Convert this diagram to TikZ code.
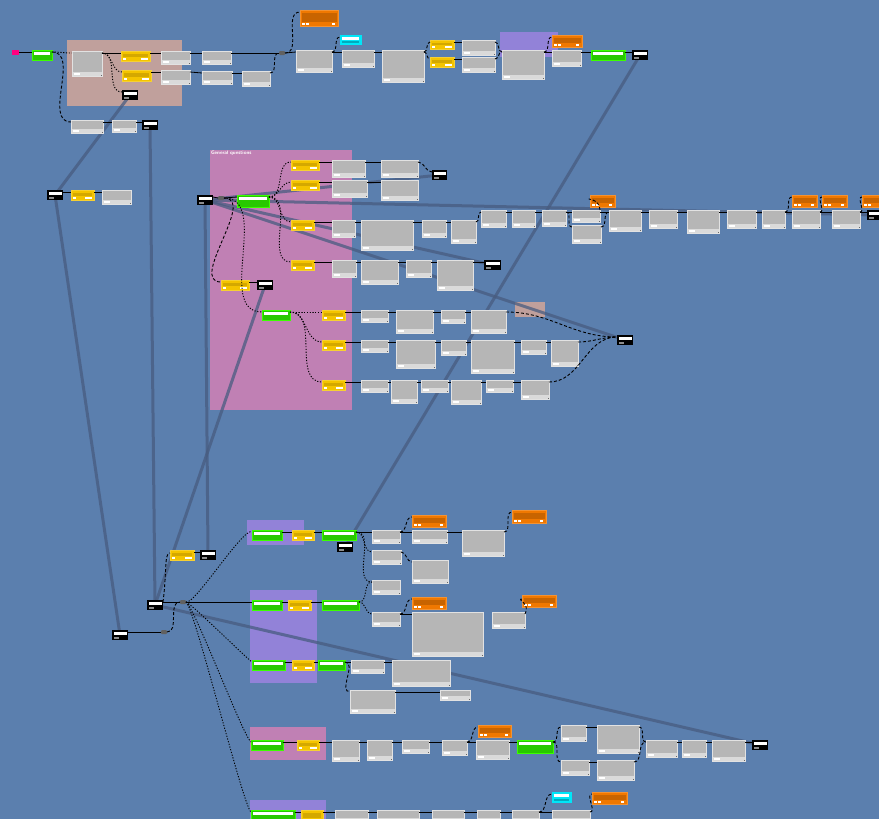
\documentclass[tikz,border=0pt]{standalone}
\usepackage{tikz}

\definecolor{canvas}{RGB}{91,127,174}
\definecolor{grpbrown}{RGB}{192,160,156}
\definecolor{grppink}{RGB}{192,128,180}
\definecolor{grplav}{RGB}{146,130,216}
\definecolor{cardgray}{RGB}{182,182,182}
\definecolor{cardrim}{RGB}{226,226,226}
\definecolor{cardfoot}{RGB}{218,218,218}
\definecolor{ygold}{RGB}{244,196,0}
\definecolor{ydark}{RGB}{212,168,0}
\definecolor{gbright}{RGB}{40,200,0}
\definecolor{grim}{RGB}{60,255,0}
\definecolor{oflame}{RGB}{240,120,0}
\definecolor{odark}{RGB}{200,100,0}
\definecolor{cyanbox}{RGB}{0,230,248}
\definecolor{cyandark}{RGB}{0,170,190}
\definecolor{linkblue}{RGB}{72,92,128}
\definecolor{startpink}{RGB}{255,0,128}

\pgfdeclarelayer{groups}
\pgfdeclarelayer{links}
\pgfsetlayers{groups,links,main}

\tikzset{
  wh/.style 2 args={minimum width=#1pt, minimum height=#2pt},
  box/.style={anchor=north west, inner sep=0pt, outer sep=0pt},
  card/.style={box, fill=cardgray, draw=cardrim, line width=.8pt,
    path picture={
      \fill[cardfoot] (path picture bounding box.south west) rectangle ([yshift=4pt]path picture bounding box.south east);
      \fill[white] ([shift={(2pt,1pt)}]path picture bounding box.south west) rectangle +(6pt,2pt);
      \fill[black!60] (path picture bounding box.south east) rectangle +(-1.5pt,1.5pt);
    }},
  gold/.style={box, fill=ygold, draw=ygold!80!white, line width=.8pt,
    path picture={
      \fill[ydark] ([shift={(2pt,-3pt)}]path picture bounding box.north west) rectangle ([shift={(-2pt,4pt)}]path picture bounding box.south east);
      \fill[white] ([shift={(2pt,1pt)}]path picture bounding box.south west) rectangle +(3pt,2.5pt);
      \fill[white] ([shift={(-9pt,1pt)}]path picture bounding box.south east) rectangle +(7pt,2.5pt);
    }},
  leaf/.style={box, fill=gbright, draw=grim, line width=1pt,
    path picture={
      \fill[white] ([shift={(2pt,-1.5pt)}]path picture bounding box.north west) rectangle ([shift={(-2pt,-4.5pt)}]path picture bounding box.north east);
    }},
  flag/.style={box, fill=oflame, draw=oflame!80!white, line width=.8pt,
    path picture={
      \fill[odark] ([shift={(1.5pt,-3pt)}]path picture bounding box.north west) rectangle ([shift={(-1.5pt,4pt)}]path picture bounding box.south east);
      \fill[white] ([shift={(2pt,1pt)}]path picture bounding box.south west) rectangle +(2.5pt,2.5pt);
      \fill[white] ([shift={(6pt,1pt)}]path picture bounding box.south west) rectangle +(2.5pt,2.5pt);
      \fill[white] ([shift={(-6pt,1pt)}]path picture bounding box.south east) rectangle +(2.5pt,2.5pt);
    }},
  teal/.style={box, fill=cyanbox, draw=cyanbox, line width=.8pt,
    path picture={
      \fill[white] ([shift={(2pt,-2pt)}]path picture bounding box.north west) rectangle ([shift={(-2pt,-5pt)}]path picture bounding box.north east);
      \fill[cyandark] ([shift={(2pt,1pt)}]path picture bounding box.south west) rectangle ([shift={(-2pt,3pt)}]path picture bounding box.south east);
    }},
  jump/.style={box, fill=black, wh={16}{10},
    path picture={
      \fill[white] ([shift={(1.5pt,-2pt)}]path picture bounding box.north west) rectangle ([shift={(-1pt,-5pt)}]path picture bounding box.north east);
      \fill[black!45] ([shift={(1.5pt,1.5pt)}]path picture bounding box.south west) rectangle +(5pt,2pt);
    }},
  knot/.style={box, fill=black!62, rounded corners=1pt, wh={6}{4}},
  note/.style={box, fill=grpbrown},
  flow/.style={black, line width=.8pt},
  branch/.style={black, line width=.9pt, dash pattern=on 3pt off 2pt},
  hint/.style={black, line width=.9pt, dash pattern=on 1.2pt off 1.6pt},
  thick link/.style={linkblue, line width=3pt, opacity=.75},
}

\begin{document}
\begin{tikzpicture}[x=1pt,y=-1pt]
\useasboundingbox (0,0) rectangle (879,819);

\begin{pgfonlayer}{groups}
  \fill[canvas] (0,0) rectangle (879,819);
  \fill[grpbrown] (67,40) rectangle (182,106);
  \fill[grplav] (500,32) rectangle (558,57);
  \fill[grppink] (210,150) rectangle (352,410);
  \fill[grplav] (247,520) rectangle (304,545);
  \fill[grplav] (250,590) rectangle (317,683);
  \fill[grppink] (250,727) rectangle (326,760);
  \fill[grplav] (250,800) rectangle (326,825);
  \node[note, wh={30}{15}] (memo) at (515,302) {};
  \node[box, text=white, font=\sffamily\bfseries\fontsize{5}{6}\selectfont] (gqtitle) at (211,151) {General questions};
\end{pgfonlayer}

% top row
\node[box, fill=startpink, wh={7}{5}] (start) at (12,50) {};
\node[leaf, wh={20}{10}] (g1) at (32,50) {};
\node[card, wh={30}{25}] (a1) at (72,51) {};
\node[gold, wh={29}{10}] (y1) at (121,51) {};
\node[gold, wh={29}{11}] (y2) at (122,70) {};
\node[card, wh={29}{13}] (a2) at (161,51) {};
\node[card, wh={29}{14}] (a3) at (161,70) {};
\node[card, wh={29}{13}] (a4) at (202,51) {};
\node[card, wh={30}{13}] (a5) at (202,71) {};
\node[card, wh={28}{15}] (a6) at (242,71) {};
\node[jump] (k1) at (122,90) {};
\node[card, wh={32}{13}] (a7) at (71,120) {};
\node[card, wh={24}{12}] (a8) at (112,120) {};
\node[jump] (k2) at (142,120) {};
\node[knot] (jn1) at (279,51) {};
\node[flag, wh={38}{16}] (o1) at (300,10) {};
\node[card, wh={36}{22}] (b1) at (296,50) {};
\node[teal, wh={21}{9}] (cy1) at (340,35) {};
\node[card, wh={32}{17}] (b2) at (342,50) {};
\node[card, wh={42}{32}] (b3) at (382,50) {};
\node[gold, wh={24}{9}] (y3) at (430,40) {};
\node[gold, wh={24}{10}] (y4) at (430,57) {};
\node[card, wh={33}{15}] (b4) at (462,40) {};
\node[card, wh={33}{15}] (b5) at (462,57) {};
\node[card, wh={42}{29}] (b6) at (502,50) {};
\node[flag, wh={30}{12}] (o2) at (552,35) {};
\node[card, wh={29}{16}] (b7) at (552,50) {};
\node[leaf, wh={34}{10}] (g2) at (591,50) {};
\node[jump] (k3) at (632,50) {};

% left column
\node[jump] (k12) at (47,190) {};
\node[gold, wh={23}{10}] (y18) at (71,190) {};
\node[card, wh={29}{14}] (l1) at (102,190) {};

% general questions
\node[jump] (k4) at (197,195) {};
\node[knot] (jn2) at (218,196) {};
\node[leaf, wh={32}{12}] (g3) at (237,195) {};
\node[gold, wh={28}{10}] (y5) at (291,160) {};
\node[gold, wh={28}{10}] (y6) at (291,180) {};
\node[gold, wh={23}{10}] (y7) at (291,220) {};
\node[gold, wh={23}{10}] (y8) at (291,260) {};
\node[gold, wh={28}{10}] (y9) at (221,280) {};
\node[jump] (k7) at (257,280) {};
\node[card, wh={33}{17}] (c1) at (332,160) {};
\node[card, wh={35}{17}] (c2) at (332,180) {};
\node[card, wh={37}{17}] (c3) at (381,160) {};
\node[card, wh={37}{20}] (c4) at (381,180) {};
\node[jump, wh={15}{10}] (k5) at (432,170) {};
\node[card, wh={23}{17}] (c5) at (332,220) {};
\node[card, wh={52}{30}] (c6) at (361,220) {};
\node[card, wh={24}{17}] (c7) at (422,220) {};
\node[card, wh={25}{23}] (c8) at (451,220) {};
\node[card, wh={25}{17}] (d1) at (481,210) {};
\node[card, wh={23}{17}] (d2) at (512,210) {};
\node[card, wh={24}{16}] (d3) at (542,210) {};
\node[card, wh={28}{12}] (d4) at (572,210) {};
\node[card, wh={29}{18}] (dx) at (572,225) {};
\node[flag, wh={25}{12}] (o3) at (590,195) {};
\node[card, wh={32}{21}] (d5) at (609,210) {};
\node[card, wh={28}{18}] (d6) at (649,210) {};
\node[card, wh={32}{23}] (d7) at (687,210) {};
\node[card, wh={29}{18}] (d8) at (727,210) {};
\node[card, wh={23}{18}] (d9) at (762,210) {};
\node[flag, wh={25}{12}] (o4) at (792,195) {};
\node[card, wh={28}{18}] (d10) at (792,210) {};
\node[flag, wh={25}{12}] (o5) at (822,195) {};
\node[card, wh={28}{18}] (d11) at (832,210) {};
\node[flag, wh={25}{12}] (o6) at (862,195) {};
\node[jump] (k8) at (867,210) {};
\node[card, wh={24}{17}] (c10) at (332,260) {};
\node[card, wh={37}{24}] (c11) at (361,260) {};
\node[card, wh={25}{17}] (c12) at (406,260) {};
\node[card, wh={36}{30}] (c13) at (437,260) {};
\node[jump, wh={17}{10}] (k6) at (484,260) {};
\node[leaf, wh={28}{10}] (g4) at (262,310) {};
\node[gold, wh={23}{10}] (y10) at (322,310) {};
\node[gold, wh={23}{10}] (y11) at (322,340) {};
\node[gold, wh={23}{10}] (y12) at (322,380) {};
\node[card, wh={27}{12}] (e1) at (361,310) {};
\node[card, wh={37}{23}] (e2) at (396,310) {};
\node[card, wh={24}{13}] (e3) at (441,310) {};
\node[card, wh={35}{23}] (e4) at (471,310) {};
\node[jump] (k9) at (617,335) {};
\node[card, wh={27}{12}] (f1) at (361,340) {};
\node[card, wh={39}{28}] (f2) at (396,340) {};
\node[card, wh={25}{15}] (f3) at (441,340) {};
\node[card, wh={43}{33}] (f4) at (471,340) {};
\node[card, wh={25}{14}] (f5) at (521,340) {};
\node[card, wh={27}{26}] (f6) at (551,340) {};
\node[card, wh={27}{12}] (h1) at (361,380) {};
\node[card, wh={26}{23}] (h2) at (391,380) {};
\node[card, wh={27}{12}] (h3) at (421,380) {};
\node[card, wh={30}{24}] (h4) at (451,380) {};
\node[card, wh={27}{12}] (h5) at (486,380) {};
\node[card, wh={28}{19}] (h6) at (521,380) {};

% lower half
\node[gold, wh={24}{10}] (y19) at (170,550) {};
\node[jump] (k14) at (200,550) {};
\node[jump] (k13) at (147,600) {};
\node[knot] (jn3) at (180,600) {};
\node[jump] (k15) at (112,630) {};
\node[knot] (jn4) at (161,630) {};
\node[leaf, wh={30}{10}] (g5) at (252,530) {};
\node[gold, wh={22}{10}] (y13) at (292,530) {};
\node[leaf, wh={34}{10}] (g6) at (322,530) {};
\node[jump] (k10) at (337,542) {};
\node[card, wh={28}{13}] (i1) at (372,530) {};
\node[flag, wh={34}{12}] (o7) at (412,515) {};
\node[card, wh={35}{13}] (i2) at (412,530) {};
\node[card, wh={42}{26}] (i3) at (462,530) {};
\node[flag, wh={34}{13}] (o8) at (512,510) {};
\node[card, wh={29}{14}] (i4) at (372,550) {};
\node[card, wh={36}{23}] (i5) at (412,560) {};
\node[card, wh={28}{14}] (i6) at (372,580) {};
\node[leaf, wh={30}{10}] (g7) at (252,600) {};
\node[gold, wh={23}{10}] (y14) at (288,600) {};
\node[leaf, wh={37}{10}] (g8) at (322,600) {};
\node[flag, wh={34}{12}] (o9) at (412,597) {};
\node[card, wh={28}{14}] (i7) at (372,612) {};
\node[card, wh={71}{44}] (i8) at (412,612) {};
\node[card, wh={33}{16}] (i9) at (492,612) {};
\node[flag, wh={34}{12}] (o10) at (522,595) {};
\node[leaf, wh={33}{10}] (g9) at (252,660) {};
\node[gold, wh={22}{10}] (y15) at (292,660) {};
\node[leaf, wh={27}{10}] (g10) at (318,660) {};
\node[card, wh={33}{13}] (i10) at (351,660) {};
\node[card, wh={58}{26}] (i11) at (392,660) {};
\node[card, wh={45}{23}] (i12) at (350,690) {};
\node[card, wh={30}{10}] (i13) at (440,690) {};
\node[leaf, wh={32}{10}] (g11) at (251,740) {};
\node[gold, wh={22}{10}] (y16) at (297,740) {};
\node[card, wh={27}{21}] (j1) at (332,740) {};
\node[card, wh={25}{20}] (j2) at (367,740) {};
\node[card, wh={27}{13}] (j3) at (402,740) {};
\node[card, wh={25}{15}] (j4) at (442,740) {};
\node[flag, wh={33}{12}] (o11) at (478,725) {};
\node[card, wh={33}{19}] (j5) at (476,740) {};
\node[leaf, wh={36}{13}] (g12) at (517,740) {};
\node[card, wh={25}{16}] (j6) at (561,725) {};
\node[card, wh={42}{28}] (j7) at (597,725) {};
\node[card, wh={28}{15}] (j8) at (561,760) {};
\node[card, wh={37}{20}] (j9) at (597,760) {};
\node[card, wh={31}{17}] (j10) at (646,740) {};
\node[card, wh={24}{17}] (j11) at (682,740) {};
\node[card, wh={33}{21}] (j12) at (712,740) {};
\node[jump] (k11) at (752,740) {};
\node[leaf, wh={44}{12}] (g13) at (251,810) {};
\node[gold, wh={22}{12}] (y17) at (301,810) {};
\node[card, wh={33}{12}] (m1) at (335,810) {};
\node[card, wh={42}{12}] (m2) at (377,810) {};
\node[card, wh={32}{12}] (m3) at (432,810) {};
\node[card, wh={23}{12}] (m4) at (477,810) {};
\node[card, wh={27}{12}] (m5) at (512,810) {};
\node[card, wh={38}{12}] (m6) at (552,810) {};
\node[teal, wh={19}{10}] (cy2) at (552,792) {};
\node[flag, wh={35}{12}] (o12) at (592,792) {};

% long jumps
\begin{pgfonlayer}{links}
  \foreach \a/\b in {k1/k12, k12/k15, k2/k13, k4/k14, k7/k13, k13/k11,
                     k10/k3, k4/k5, k4/k6, k4/k8, k4/k9}
    \draw[thick link] (\a.center) -- (\b.center);
\end{pgfonlayer}

% straight flow
\foreach \a/\b in {start/g1, a1/y1, y1/a2, a2/a4, a4/jn1, jn1/b1, y2/a3, a3/a5, a5/a6,
                   a7/a8, a8/k2, b1/b2, b2/b3, y3/b4, y4/b5, b6/b7, b7/g2, g2/k3,
                   k12/y18, y18/l1, k4/jn2, jn2/g3, y5/c1, c1/c3, y6/c2, c2/c4,
                   y7/c5, c5/c6, c6/c7, c7/c8, d1/d2, d2/d3, d3/d4, d4/d5, d5/d6,
                   d6/d7, d7/d8, d8/d9, d9/d10, d10/d11, d11/k8,
                   y8/c10, c10/c11, c11/c12, c12/c13, c13/k6, y9/k7,
                   y10/e1, e1/e2, e2/e3, e3/e4, y11/f1, f1/f2, f2/f3, f3/f4, f4/f5, f5/f6,
                   y12/h1, h1/h2, h2/h3, h3/h4, h4/h5, h5/h6,
                   y19/k14, k13/jn3, k15/jn4, jn3/g7, g5/y13, y13/g6, g6/i1, i1/i2, i2/i3,
                   g7/y14, y14/g8, i7/i8, g9/y15, y15/g10, g10/i10, i10/i11, i12/i13,
                   g11/y16, y16/j1, j1/j2, j2/j3, j3/j4, j4/j5, j5/g12, j6/j7, j8/j9,
                   j10/j11, j11/j12, j12/k11, g13/y17, y17/m1, m1/m2, m2/m3, m3/m4, m4/m5, m5/m6}
  \draw[flow] ([yshift=-2pt]\a.north east) -- ([yshift=-2pt]\b.north west);

% dashed branches
\foreach \a/\b in {g1/a7, a6/jn1, jn1/o1, b1/cy1, b3/y3, b3/y4, b4/b6, b5/b6, b6/o2,
                   jn2/y9, c3/k5, c8/d1, d3/dx, dx/d5, d9/o4, d10/o5, d11/o6,
                   e4/k9, f6/k9, h6/k9, jn4/jn3, i4/i5, i1/o7, i3/o8, i7/o9,
                   g10/i12, g12/j6, g12/j8, j7/j10, j9/j10, j4/o11, m5/cy2, m6/o12}
  \draw[branch] ([yshift=-2pt]\a.north east) to[out=0,in=180] ([yshift=-2pt]\b.north west);

% dotted hints
\foreach \a/\b in {g1/a1, a1/y2, a1/k1, jn2/g4, g3/y5, g3/y6, g3/y7, g3/y8,
                   g4/y10, g4/y11, g4/y12, g6/i4, g6/i6, g8/i6, g8/i7}
  \draw[hint] ([yshift=-2pt]\a.north east) to[out=0,in=180] ([yshift=-2pt]\b.north west);
\foreach \b in {g5, g9, g11, g13}
  \draw[hint] (jn3.east) .. controls +(8,4) and +(-8,-6) .. ([yshift=-2pt]\b.north west);

\draw[branch] (d4.north east) .. controls +(0,-12) and +(-6,0) .. ([yshift=-4pt]o3.north west);
\draw[branch] ([yshift=-2pt]i9.north east) .. controls +(6,-10) and +(-6,0) .. ([yshift=-4pt]o10.north west);
\draw[branch] ([yshift=-2pt]k13.north east) .. controls +(4,-30) and +(-6,0) .. ([yshift=-3pt]y19.north west);

\end{tikzpicture}
\end{document}
